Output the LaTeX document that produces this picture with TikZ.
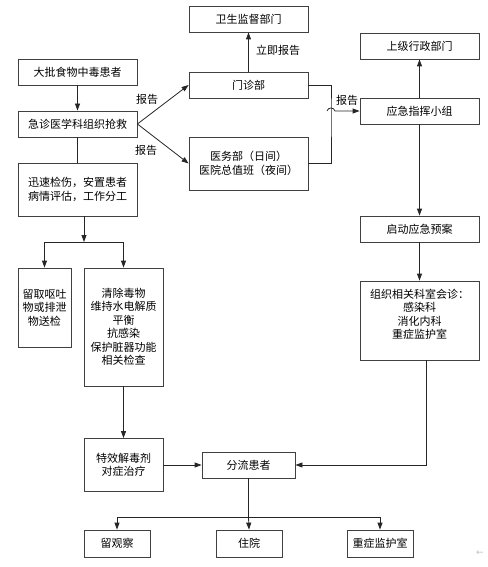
\documentclass[tikz,border=0pt]{standalone}
\usepackage{fontspec}
\setmainfont{Noto Sans CJK SC}
\newfontfamily\symfont{DejaVu Sans}
\usetikzlibrary{arrows.meta}

\begin{document}
\begin{tikzpicture}[x=1pt, y=-1pt, node distance=52pt]
        \tikzstyle{box} = [draw=black!75, line width=0.8pt, fill=white, minimum width=119pt, minimum height=26pt, inner sep=2pt, align=center, font=\fontsize{11}{13.5}\selectfont];
        \tikzstyle{tall} = [box, minimum height=53pt];
        \tikzstyle{small} = [box, minimum width=66pt, minimum height=27pt];
        \tikzstyle{note} = [font=\fontsize{11}{13}\selectfont, inner sep=1pt];
        \tikzstyle{line} = [line width=0.8pt, black!85];
        \tikzstyle{arr} = [line, -{Triangle[length=7pt,width=5pt]}];

        \useasboundingbox (0,0) rectangle (487,567);

        \node[box] (wsjd) at (248.5,19) {卫生监督部门};
        \node[box] (mzb) at (248.5,85) {门诊部};
        \node[tall] (ywb) at (248.5,163.5) {医务部（日间）\\医院总值班（夜间）};
        \node[box] (sjxz) at (419.5,46) {上级行政部门};
        \node[box] (yjzh) at (419.5,111) {应急指挥小组};
        \node[box, below of=yjzh, node distance=118pt] (qdya) {启动应急预案};
        \node[box, minimum height=79pt, below of=qdya, node distance=91.5pt,
            label={[align=center, yshift=6pt, font=\fontsize{11}{13.5}\selectfont]center:组织相关科室会诊：\\感染科\\消化内科\\重症监护室}] (hz) {};

        \node[box] (dp) at (77.5,72) {大批食物中毒患者};
        \node[box, below of=dp] (jz) {急诊医学科组织抢救};
        \node[tall, below of=jz, node distance=65.5pt] (jc) {迅速检伤，安置患者\\病情评估，工作分工};
        \node[box, minimum width=53pt, minimum height=79pt] (lq) at (44.5,307.5) {留取呕吐\\物或排泄\\物送检};
        \node[box, minimum width=79pt, minimum height=118pt] (qc) at (123.5,327) {清除毒物\\维持水电解质\\平衡\\抗感染\\保护脏器功能\\相关检查};
        \node[tall, minimum width=79pt] (jd) at (123.5,465) {特效解毒剂\\对症治疗};
        \node[box, minimum width=93pt] (fl) at (248.5,465) {分流患者};
        \node[small] (lg) at (117,543.5) {留观察};
        \node[small] (zy) at (249,543.5) {住院};
        \node[small] (zzjh) at (380,543.5) {重症监护室};

        \node[note] (bg1) at (147,99) {报告};
        \node[note] (bg2) at (146,150) {报告};
        \node[note] (ljbg) at (278,50) {立即报告};
        \node[note] (bg3) at (347,100) {报告};
        \node[text=black!25, font=\symfont\fontsize{9}{9}\selectfont] (back) at (480,553) {←};

        \draw[arr] (dp) -- (jz);
        \draw[arr] (jz.east) -- (mzb.west);
        \draw[arr] (jz.east) -- (ywb.west);
        \draw[line] (jz) -- (jc);
        \draw[arr] (mzb) -- (wsjd);
        \coordinate (hb) at (331,111);
        \draw[line] (mzb.east) -| (hb) |- (ywb.east);
        \draw[arr] ([xshift=-4pt]hb) .. controls +(1,-4) and +(-1,-4) .. ([xshift=4pt]hb) -- (yjzh.west);
        \draw[arr] (yjzh) -- (sjxz);
        \draw[arr] (yjzh) -- (qdya);
        \draw[arr] (qdya) -- (hz);
        \draw[arr] ([xshift=6.5pt]hz.south) |- (fl.east);

        \coordinate (fz1) at (84,242);
        \draw[arr] ([xshift=6.5pt]jc.south) -- (fz1);
        \draw[arr] (fz1) -| (lq.north);
        \draw[arr] (fz1) -| (qc.north);
        \draw[arr] (qc) -- (jd);
        \draw[arr] (jd) -- (fl);

        \coordinate (fz2) at (248.5,517);
        \draw[line] (fl) -- (fz2);
        \draw[arr] (fz2) -| (lg.north);
        \draw[arr] (fz2) -- (zy.north);
        \draw[arr] (fz2) -| (zzjh.north);
    \end{tikzpicture}
\end{document}
